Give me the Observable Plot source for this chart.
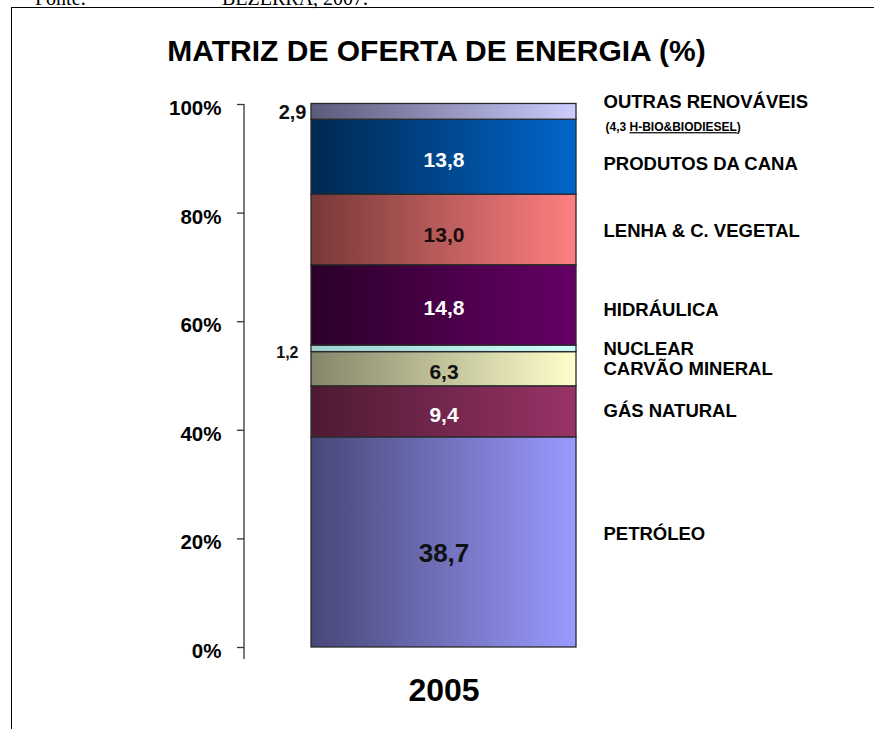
<!DOCTYPE html>
<html><head><meta charset="utf-8">
<script src="https://cdn.jsdelivr.net/npm/d3@7"></script>
<script src="https://cdn.jsdelivr.net/npm/@observablehq/plot@0.6"></script>
<style>
html,body{margin:0;padding:0;background:#fff;}
#wrap{position:relative;width:874px;height:729px;overflow:hidden;font-family:"Liberation Sans",Arial,sans-serif;color:#000;}
#frame{position:absolute;left:11px;top:7px;width:1000px;height:1000px;border-left:1.5px solid #000;border-top:1.5px solid #000;}
.src{position:absolute;top:-12px;font-family:"Liberation Serif","Times New Roman",serif;font-size:20px;line-height:20px;white-space:nowrap;}
#title{position:absolute;left:0;width:873px;top:36px;text-align:center;font-weight:bold;font-size:30px;line-height:30px;white-space:nowrap;}
#chart{position:absolute;left:0;top:0;}
</style></head>
<body>
<div id="wrap">
  <div id="frame"></div>
  <span class="src" style="left:35px">Fonte:</span>
  <span class="src" style="left:222px">BEZERRA, 2007.</span>
  <div id="title"></div>
  <div id="chart"></div>
</div>
<script>
// ---------- data ----------
const titleText = "MATRIZ DE OFERTA DE ENERGIA (%)";
const year = "2005";
const categories = ["PETRÓLEO", "GÁS NATURAL", "CARVÃO MINERAL", "NUCLEAR", "HIDRÁULICA", "LENHA & C. VEGETAL", "PRODUTOS DA CANA", "OUTRAS RENOVÁVEIS"];
const values = [38.7, 9.4, 6.3, 1.2, 14.8, 13.0, 13.8, 2.9];
const valueLabels = ["38,7", "9,4", "6,3", "1,2", "14,8", "13,0", "13,8", "2,9"];
const noteText = "(4,3 H-BIO&BIODIESEL)";
const yTicks = [0, 20, 40, 60, 80, 100];

// ---------- layout / style (not data) ----------
const W = 874, H = 729, mT = 104, mB = 82, mL = 244, mR = 231;
const nameAt  = [20.8, 43.5, 51.2, 54.9, 62.1, 76.6, 89.1, 100.4]; // where each name sits (%)
const valueAt = [17.3, 42.7, 50.6, 54.3, 62.5, 75.9, 89.7, 98.5];  // where each value label sits (%)
const noteAt = 95.8;
const gradDark  = ["#474777", "#4d1a33", "#85856a", "#9fcfcf", "#2b0029", "#773838", "#00284f", "#5a5a7a"];
const gradLight = ["#9a9aff", "#993366", "#ffffcc", "#ccffff", "#660066", "#ff8080", "#0066cc", "#ccccff"];
const textColor = ["#111", "#fff", "#111", "#111", "#fff", "#1a0c0c", "#fff", "#111"];

document.getElementById("title").textContent = titleText;

let acc = 0;
const segs = categories.map((c, i) => {
  const s = {i, cat: c, year, v: values[i], y1: acc, y2: acc + values[i], label: valueLabels[i], at: valueAt[i], name: nameAt[i]};
  acc += values[i];
  return s;
});
const inside = segs.filter(d => d.v >= 5);
const outsideTop = segs.filter(d => d.cat === "OUTRAS RENOVÁVEIS");
const outsideNuc = segs.filter(d => d.cat === "NUCLEAR");

const font = "'Liberation Sans', Arial, sans-serif";

const chart = Plot.plot({
  width: W, height: H,
  marginTop: mT, marginBottom: mB, marginLeft: mL, marginRight: mR,
  style: {fontFamily: font, background: "transparent", overflow: "visible"},
  x: {domain: [year], padding: 0.2018},
  y: {domain: [0, 100]},
  color: {type: "identity"},
  marks: [
    Plot.barY(segs, {x: "year", y1: "y1", y2: "y2", fill: d => `url(#grad-${d.i})`, stroke: "#2a2a2a", strokeWidth: 1.3}),
    Plot.text(inside, {x: "year", y: "at", text: "label", fill: d => textColor[d.i],
      fontSize: d => d.v > 30 ? 26 : 21, fontWeight: "bold"}),
    Plot.text(outsideTop, {x: "year", y: "at", text: "label", fill: "#111", fontSize: 20, fontWeight: "bold", textAnchor: "end", dx: -137.5}),
    Plot.text(outsideNuc, {x: "year", y: "at", text: "label", fill: "#111", fontSize: 16, fontWeight: "bold", textAnchor: "end", dx: -145.5}),
    Plot.text(segs, {x: "year", y: "name", text: "cat", fill: "#000", fontSize: 18.5, fontWeight: "bold", textAnchor: "start", dx: 159.5}),
    Plot.text([noteText], {x: () => year, y: () => noteAt, text: d => d, fill: "#000", fontSize: 12, fontWeight: "bold", textAnchor: "start", dx: 161.5}),
    Plot.axisY(yTicks, {tickSize: 7, tickFormat: () => "", stroke: "#333", strokeWidth: 1.3, label: null}),
    Plot.text(yTicks, {y: d => d, text: d => d + "%", frameAnchor: "left", dx: -23, dy: 4, textAnchor: "end", fontSize: 20.5, fontWeight: "bold", fill: "#000"}),
    Plot.axisX({tickSize: 0, tickPadding: 31, fontSize: 32, fontWeight: "bold", label: null, fill: "#000"})
  ]
});

const svg = d3.select(chart);
const defs = svg.insert("defs", ":first-child");
segs.forEach(d => {
  const g = defs.append("linearGradient").attr("id", `grad-${d.i}`).attr("x1", 0).attr("x2", 1).attr("y1", 0).attr("y2", 0);
  g.append("stop").attr("offset", "0%").attr("stop-color", gradDark[d.i]);
  g.append("stop").attr("offset", "100%").attr("stop-color", gradLight[d.i]);
});
// axis line (extends a little below 0%, as in the original)
svg.append("line").attr("x1", mL).attr("x2", mL).attr("y1", mT).attr("y2", H - mB + 12)
  .attr("stroke", "#333").attr("stroke-width", 1.3);
// underline part of the note
svg.selectAll("text").filter(function() { return this.textContent === noteText; }).each(function() {
  const t = d3.select(this);
  t.text(null);
  t.append("tspan").text("(4,3 ");
  t.append("tspan").text("H-BIO&BIODIESEL").style("text-decoration", "underline");
  t.append("tspan").text(")");
});
document.getElementById("chart").appendChild(chart);
</script>
</body></html>
